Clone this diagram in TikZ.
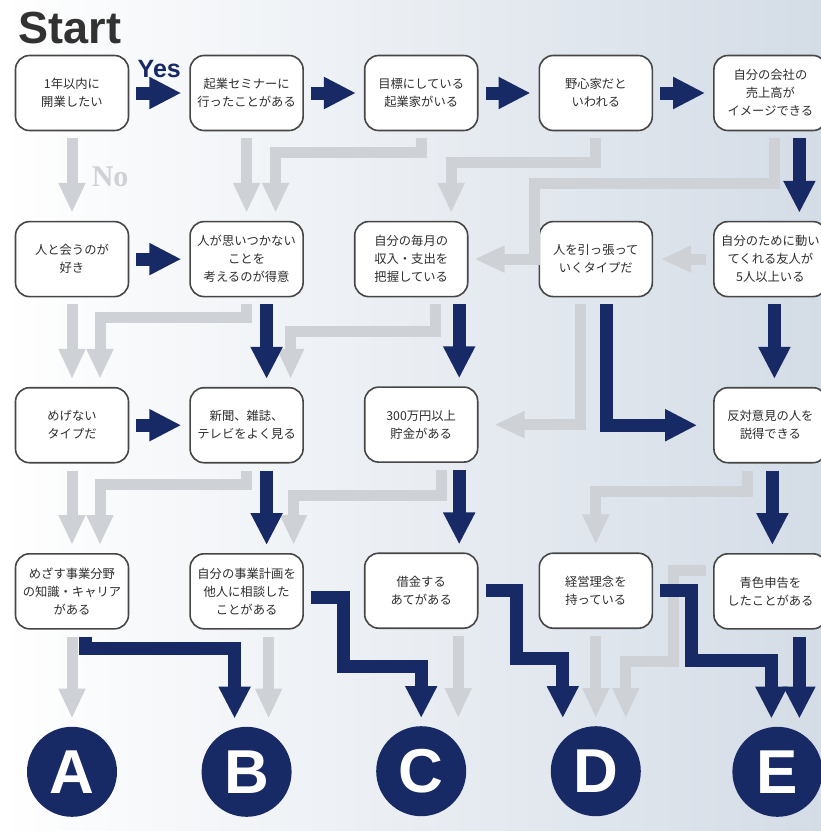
\documentclass[tikz,border=0pt]{standalone}
\usepackage{fontspec}
\usepackage{xcolor}
\setmainfont{Noto Sans CJK JP}
\newfontfamily\headfont{Liberation Sans}
\newfontfamily\nofont{Liberation Serif}
\usetikzlibrary{arrows.meta, positioning, calc}
\definecolor{navyBlue}{RGB}{24,42,102}
\definecolor{paleGray}{RGB}{206,209,213}
\definecolor{boxLine}{RGB}{70,70,70}
\definecolor{darkText}{RGB}{45,45,45}
\definecolor{startGray}{RGB}{50,50,50}
\definecolor{bgBlue}{RGB}{212,220,230}
\tikzset{
    qbox/.style={
        rectangle,
        draw=boxLine,
        line width=1.6pt,
        rounded corners=14pt,
        fill=white,
        align=center,
        minimum width=113pt,
        minimum height=75pt,
        inner sep=1pt,
        text=darkText,
        font=\fontsize{12.3}{18}\selectfont
    },
    endcircle/.style={
        circle,
        fill=navyBlue,
        minimum size=90pt,
        inner sep=0pt,
        text=white,
        font=\headfont\bfseries\fontsize{62}{62}\selectfont
    },
    yesarrow/.style={-{Triangle[length=32pt,width=30pt]}, line width=13pt, draw=navyBlue, shorten <=7pt, shorten >=8pt},
    noarrow/.style={-{Triangle[length=30pt,width=25pt]}, line width=11pt, draw=paleGray, shorten <=7pt, shorten >=8pt}
}
\begin{document}
\begin{tikzpicture}[x=1pt, y=1pt, node distance=89.5pt and 60pt]
    \useasboundingbox (0,0) rectangle (821,-831);
    \shade[left color=white, right color=bgBlue] (0,0) rectangle (821,-831);
    \node[anchor=base west, text=startGray, font=\headfont\bfseries\fontsize{45}{45}\selectfont] (start) at (15,-43) {Start};

    % questions
    \node[qbox] (b11) at (72,-93) {1年以内に\\開業したい};
    \node[qbox, right=of b11] (b12) {起業セミナーに\\行ったことがある};
    \node[qbox, right=of b12] (b13) {目標にしている\\起業家がいる};
    \node[qbox, right=of b13] (b14) {野心家だと\\いわれる};
    \node[qbox, right=of b14] (b15) {自分の会社の\\売上高が\\イメージできる};

    \node[qbox, below=of b11] (b21) {人と会うのが\\好き};
    \node[qbox, below=of b12] (b22) {人が思いつかない\\ことを\\考えるのが得意};
    \node[qbox, below=of b13, xshift=-10pt] (b23) {自分の毎月の\\収入・支出を\\把握している};
    \node[qbox, below=of b14] (b24) {人を引っ張って\\いくタイプだ};
    \node[qbox, below=of b15] (b25) {自分のために動い\\てくれる友人が\\5人以上いる};

    \node[qbox, below=of b21] (b31) {めげない\\タイプだ};
    \node[qbox, below=of b22] (b32) {新聞、雑誌、\\テレビをよく見る};
    \node[qbox, below=of b13, yshift=-165.5pt] (b33) {300万円以上\\貯金がある};
    \node[qbox, below=of b25] (b35) {反対意見の人を\\説得できる};

    \node[qbox, below=of b31] (b41) {めざす事業分野\\の知識・キャリア\\がある};
    \node[qbox, below=of b32] (b42) {自分の事業計画を\\他人に相談した\\ことがある};
    \node[qbox, below=of b33] (b43) {借金する\\あてがある};
    \node[qbox, right=of b43] (b44) {経営理念を\\持っている};
    \node[qbox, below=of b35] (b45) {青色申告を\\したことがある};

    % results
    \node[endcircle, below=97pt of b41] (cA) {A};
    \node[endcircle, below=97pt of b42] (cB) {B};
    \node[endcircle, below=97pt of b43] (cC) {C};
    \node[endcircle, below=97pt of b44] (cD) {D};
    \node[endcircle, below=97pt of b45, xshift=7pt] (cE) {E};

    % No
    \draw[noarrow] (b11) -- node[anchor=base west, xshift=11pt, yshift=-10.5pt, text=paleGray, font=\nofont\bfseries\fontsize{30}{30}\selectfont] (no) {No} (b21);
    \draw[noarrow] (b12) -- (b22);
    \draw[noarrow] (b13.south) -- ++(0,-21) -| ([xshift=29pt]b22.north);
    \draw[noarrow] (b14.south) -- ++(0,-31) -| ([xshift=40pt]b23.north);
    \draw[noarrow, shorten >=6pt] ([xshift=4pt]b15.south) -- ++(0,-52) -- ++(-240,0) |- (b23.east);
    \draw[noarrow] (b25) -- (b24);
    \draw[noarrow] (b21) -- (b31);
    \draw[noarrow] (b22.south) -- ++(0,-20) -| ([xshift=28pt]b31.north);
    \draw[noarrow] ([xshift=24pt]b23.south) -- ++(0,-34) -| ([xshift=44pt]b32.north);
    \draw[noarrow, shorten >=16pt] ([xshift=-15pt]b24.south) |- (b33.east);
    \draw[noarrow] (b31) -- (b41);
    \draw[noarrow] (b32.south) -- ++(0,-21) -| ([xshift=28pt]b41.north);
    \draw[noarrow] ([xshift=20pt]b33.south) -- ++(0,-33) -| ([xshift=47pt]b42.north);
    \draw[noarrow] ([xshift=-23pt]b35.south) -- ++(0,-28) -| (b44.north);
    \draw[noarrow] (b41) -- (cA);
    \draw[noarrow] ([xshift=22pt]b42.south) -- ([xshift=22pt]b42.south |- cB.north);
    \draw[noarrow] ([xshift=37pt]b43.south) -- ([xshift=37pt]b43.south |- cC.north);
    \draw[noarrow] (b44) -- (cD);
    \draw[noarrow] ([yshift=21pt]b45.west) -| ++(-40,-91) -| ([xshift=30pt]cD.north);

    % Yes
    \draw[yesarrow] (b11) -- node[anchor=base, yshift=16pt, text=navyBlue, font=\headfont\bfseries\fontsize{25}{25}\selectfont] (yes) {Yes} (b12);
    \draw[yesarrow] (b12) -- (b13);
    \draw[yesarrow] (b13) -- (b14);
    \draw[yesarrow] (b14) -- (b15);
    \draw[yesarrow] ([xshift=29pt]b15.south) -- ([xshift=29pt]b25.north);
    \draw[yesarrow] (b21) -- (b22);
    \draw[yesarrow] ([xshift=20pt]b22.south) -- ([xshift=20pt]b32.north);
    \draw[yesarrow] ([xshift=38pt]b33.north |- b23.south) -- ([xshift=38pt]b33.north);
    \draw[yesarrow, shorten >=16pt] ([xshift=11pt]b24.south) |- (b35.west);
    \draw[yesarrow] ([xshift=4pt]b25.south) -- ([xshift=4pt]b35.north);
    \draw[yesarrow] (b31) -- (b32);
    \draw[yesarrow] ([xshift=20pt]b32.south) -- ([xshift=20pt]b42.north);
    \draw[yesarrow] ([xshift=38pt]b33.south) -- ([xshift=38pt]b43.north);
    \draw[yesarrow] ([xshift=2pt]b35.south) -- ([xshift=2pt]b45.north);
    \draw[yesarrow] ([xshift=13pt]b41.south) -- ++(0,-19) -| ([xshift=-12pt]cB.north);
    \draw[yesarrow] ([yshift=-6pt]b42.east) -- ++(40,0) -- ++(0,-69) -| (cC.north);
    \draw[yesarrow] (b43.east) -- ++(38,0) -- ++(0,-68) -| ([xshift=-33pt]cD.north);
    \draw[yesarrow] (b44.east) -- ++(38,0) -- ++(0,-70) -| ([xshift=-6pt]cE.north);
    \draw[yesarrow] ([xshift=29pt]b45.south) -- ([xshift=29pt]b45.south |- cE.north);
\end{tikzpicture}
\end{document}
